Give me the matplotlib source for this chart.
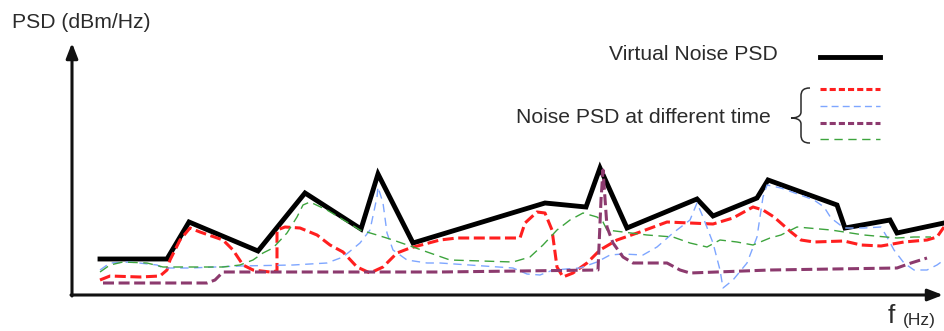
import matplotlib
matplotlib.use("Agg")
import matplotlib.pyplot as plt
from matplotlib.lines import Line2D
from matplotlib.path import Path
from matplotlib.patches import PathPatch

plt.rcParams["font.family"] = ["Liberation Sans", "DejaVu Sans"]

# Frequency positions (arbitrary units) and PSD levels (arbitrary units above floor)
virtual_f = [28, 95, 117, 186, 233, 289, 306, 341, 473, 514, 528, 555, 625, 641,
             685, 696, 765, 773, 818, 825, 872]
virtual_psd = [36, 36, 73, 44, 102, 66, 121, 52, 92, 88, 127, 67, 96, 79,
               97, 115, 90, 67, 75, 62, 72]

red_f = [28, 38, 68, 88, 95, 98, 108, 118, 128, 151, 161, 171, 181, 198, 205, 205,
         213, 228, 245, 258, 271, 285, 298, 311, 325, 338, 368, 385, 448, 453, 465,
         473, 480, 485, 491, 501, 515, 528, 545, 568, 595, 618, 641, 661, 681, 691,
         702, 719, 729, 742, 772, 789, 809, 832, 855, 865, 872]
red_psd = [15, 19, 18, 19, 25, 35, 55, 67, 63, 55, 45, 30, 25, 23, 24, 65,
           68, 67, 60, 50, 43, 28, 22, 28, 42, 47, 55, 57, 57, 72, 83,
           82, 65, 28, 18, 22, 32, 45, 55, 63, 73, 72, 71, 77, 88, 85,
           78, 63, 55, 53, 54, 50, 49, 53, 55, 58, 68]

blue_f = [28, 38, 58, 85, 91, 118, 168, 221, 255, 271, 288, 298, 305, 306, 311, 315,
          321, 335, 355, 368, 441, 455, 468, 481, 508, 525, 538, 551, 571, 585, 601,
          618, 625, 631, 641, 648, 651, 661, 675, 685, 691, 695, 709, 742, 752, 759,
          772, 792, 809, 815, 822, 832, 842, 855, 865, 872]
blue_psd = [25, 32, 33, 30, 27, 27, 29, 30, 32, 38, 52, 65, 98, 108, 92, 62,
            45, 35, 32, 32, 27, 21, 20, 25, 27, 33, 40, 41, 40, 48, 62,
            75, 92, 78, 52, 25, 7, 15, 32, 58, 98, 110, 107, 95, 88, 77,
            67, 67, 68, 58, 45, 32, 25, 25, 30, 35]

purple_f = [31, 135, 143, 151, 198, 368, 526, 529, 531, 535, 541, 551, 561, 595,
            608, 618, 698, 825, 839, 855]
purple_psd = [12, 12, 15, 23, 23, 23, 25, 95, 125, 68, 52, 38, 32, 32,
              25, 22, 25, 27, 32, 37]

green_f = [28, 38, 51, 75, 91, 151, 168, 181, 191, 201, 215, 225, 231, 238, 255, 275,
           288, 305, 321, 341, 358, 378, 441, 458, 471, 485, 498, 511, 525, 531, 535,
           551, 575, 601, 618, 635, 648, 665, 681, 698, 709, 725, 759, 792, 825, 842, 859]
green_psd = [23, 30, 33, 32, 28, 28, 30, 35, 42, 47, 62, 78, 90, 93, 85, 73,
             65, 60, 55, 48, 42, 35, 33, 38, 50, 65, 75, 82, 78, 73, 65,
             63, 60, 58, 52, 48, 55, 53, 50, 57, 60, 68, 65, 60, 57, 58, 58]

W, H = 944, 331
TEXT = "#2b2b2b"
RED = "#ff1f1f"
BLUE = "#7ea6ff"
PURPLE = "#8c3a6e"
GREEN = "#3da43d"
BLACK = "#000000"

fig = plt.figure(figsize=(W / 100, H / 100), dpi=100)
ax = fig.add_axes([0, 0, 1, 1])
ax.set_xlim(-72, W - 72)
ax.set_ylim(-36, H - 36)
ax.axis("off")

# Coordinate axes with arrow heads
ax.annotate("", xy=(871, 0), xytext=(-1, 0),
            arrowprops=dict(arrowstyle="-|>,head_length=0.9,head_width=0.35",
                            lw=2.2, color="#111111", shrinkA=0, shrinkB=0))
ax.annotate("", xy=(0, 252), xytext=(0, -1),
            arrowprops=dict(arrowstyle="-|>,head_length=0.9,head_width=0.35",
                            lw=2.2, color="#111111", shrinkA=0, shrinkB=0))

ax.plot(virtual_f, virtual_psd, color=BLACK, lw=3.5, solid_joinstyle="miter", zorder=3)
ax.plot(red_f, red_psd, color=RED, lw=2.2, dashes=(3.6, 1.5), zorder=4)
ax.plot(blue_f, blue_psd, color=BLUE, lw=1.0, dashes=(6, 4), zorder=4)
ax.plot(purple_f, purple_psd, color=PURPLE, lw=2.2, dashes=(3.6, 1.5), zorder=5)
ax.plot(green_f, green_psd, color=GREEN, lw=1.0, dashes=(7, 4), zorder=4)


def fx(px):
    return px / W


def fy(py):
    return 1 - py / H


fs = 15.2
fig.text(fx(12), fy(22), "PSD (dBm/Hz)", fontsize=fs, color=TEXT, va="center", ha="left")
fig.text(fx(888), fy(316), "f", fontsize=19, color=TEXT, va="center", ha="left")
fig.text(fx(903), fy(320), "(Hz)", fontsize=12.5, color=TEXT, va="center", ha="left")

# Legend block
fig.text(fx(778), fy(55), "Virtual Noise PSD", fontsize=fs, color=TEXT, va="center", ha="right")
fig.text(fx(771), fy(117), "Noise PSD at different time", fontsize=fs, color=TEXT,
         va="center", ha="right")

legend_x = [fx(820), fx(880)]
fig.add_artist(Line2D(legend_x, [fy(57)] * 2, color=BLACK, lw=3.5))
fig.add_artist(Line2D(legend_x, [fy(89)] * 2, color=RED, lw=2.2, dashes=(2.0, 1.0)))
fig.add_artist(Line2D(legend_x, [fy(106)] * 2, color=BLUE, lw=1.0, dashes=(5, 3)))
fig.add_artist(Line2D(legend_x, [fy(123)] * 2, color=PURPLE, lw=2.2, dashes=(2.0, 1.0)))
fig.add_artist(Line2D(legend_x, [fy(139)] * 2, color=GREEN, lw=1.0, dashes=(6, 4)))

# Curly brace grouping the sample series
bx, tip_x, top, mid, bot = 801, 791, 88, 118, 143
verts = [(810, top), (803, top), (bx, top + 3), (bx, top + 8),
         (bx, mid - 6),
         (bx, mid - 1), (tip_x + 4, mid), (tip_x, mid),
         (tip_x + 4, mid), (bx, mid + 1), (bx, mid + 6),
         (bx, bot - 8),
         (bx, bot - 3), (803, bot), (810, bot)]
codes = [Path.MOVETO, Path.CURVE4, Path.CURVE4, Path.CURVE4,
         Path.LINETO,
         Path.CURVE4, Path.CURVE4, Path.CURVE4,
         Path.CURVE4, Path.CURVE4, Path.CURVE4,
         Path.LINETO,
         Path.CURVE4, Path.CURVE4, Path.CURVE4]
brace = Path([(fx(x), fy(y)) for x, y in verts], codes)
fig.add_artist(PathPatch(brace, transform=fig.transFigure, fill=False,
                         edgecolor=TEXT, lw=1.1))

fig.savefig("out.png", dpi=100, facecolor="white")
